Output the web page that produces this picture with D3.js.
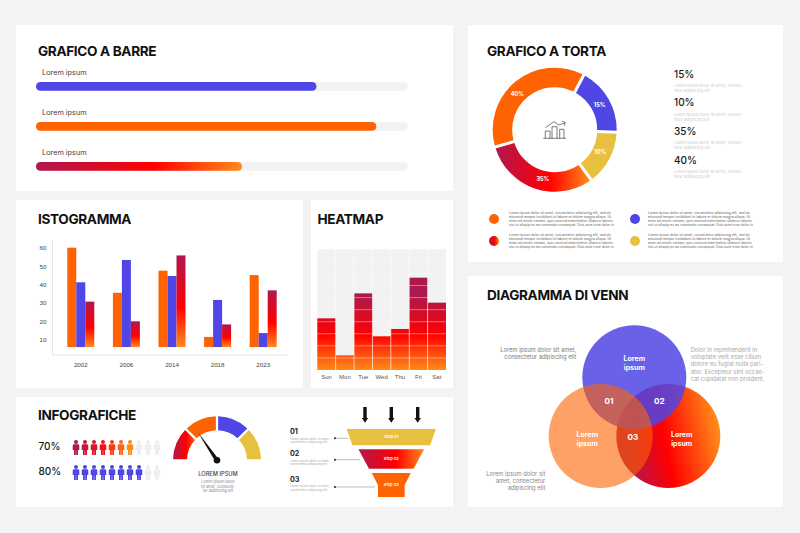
<!DOCTYPE html>
<html>
<head>
<meta charset="utf-8">
<script src="https://cdn.jsdelivr.net/npm/d3@7"></script>
<style>
  html, body { margin: 0; padding: 0; background: #f3f3f3; }
  svg { display: block; font-family: Inter, "Open Sans", sans-serif; }
  .title { font-size: 13.6px; font-weight: 700; fill: #111; letter-spacing: -0.35px; }
</style>
</head>
<body>
<div id="chart"></div>
<script>
// progress bars
var barLabels = ["Lorem ipsum", "Lorem ipsum", "Lorem ipsum"];
var barValues = [75.4, 91.5, 55.4];

// donut
var pieShares = [37.3, 17.9, 14.3, 30.5];
var pieLabels = ["40%", "15%", "10%", "35%"];
var pieSideLabels = ["15%", "10%", "35%", "40%"];

// histogram
var years = ["2002", "2006", "2014", "2018", "2023"];
var histSeries = ["a", "b", "c"];
var histA = [60, 35.5, 47.5, 11.5, 45.1];
var histB = [41.2, 53.3, 44.6, 31.6, 13.6];
var histC = [30.7, 20, 55.8, 18.3, 36.8];
var histTicks = [10, 20, 30, 40, 50, 60];

// heatmap
var days = ["Sun", "Mon", "Tue", "Wed", "Thu", "Fri", "Sat"];
var heatValues = [4.28, 1.22, 6.35, 2.79, 3.4, 7.65, 5.58];
var heatRows = d3.range(10);

// infographics
var peoplePercents = [70, 80];
var gaugeSegments = [1, 1, 1, 1];
var gaugeValue = 31;
var funnelSteps = ["Step 01", "Step 02", "Step 03"];
var funnelTop = [100, 73.5, 43.7];
var funnelBottom = [87, 50, 29.9];
var funnelNumbers = ["01", "02", "03"];

var loremShort = ["Lorem ipsum dolor sit amet, consec-", "tetur adipiscing elit"];
var loremLong = [
  "Lorem ipsum dolor sit amet, consectetur adipiscing elit, sed do",
  "eiusmod tempor incididunt ut labore et dolore magna aliqua. Ut",
  "enim ad minim veniam, quis nostrud exercitation ullamco laboris",
  "nisi ut aliquip ex ea commodo consequat. Duis aute irure dolor in"
];

var BLUE = "#4f46e5", ORANGE = "#ff6200", YELLOW = "#e8c040", LIGHT = "#f2f2f2";

var svg = d3.select("#chart").append("svg")
  .attr("width", 800)
  .attr("height", 533);

var defs = svg.append("defs");

// crimson > red > orange, used all over the page
function addGradient(id, x1, y1, x2, y2) {
  var g = defs.append("linearGradient").attr("id", id)
    .attr("x1", x1).attr("y1", y1).attr("x2", x2).attr("y2", y2);
  g.append("stop").attr("offset", 0).attr("stop-color", "#b0174f");
  g.append("stop").attr("offset", 0.57).attr("stop-color", "#ff0000");
  g.append("stop").attr("offset", 1).attr("stop-color", "#ff8c1a");
}
addGradient("hot-h", 0, 0, 1, 0);
addGradient("hot-v", 0, 0, 0, 1);

function panel(x, y, w, h, title, tx, ty) {
  svg.append("rect").attr("x", x).attr("y", y).attr("width", w).attr("height", h).attr("fill", "#fff");
  svg.append("text").attr("class", "title").attr("x", tx).attr("y", ty).text(title);
}

function textLines(parent, lines, x, y, pitch, size, color, anchor) {
  parent.selectAll(null)
    .data(lines)
    .enter()
    .append("text")
    .attr("x", x)
    .attr("y", function(d, i) { return y + i * pitch; })
    .attr("font-size", size)
    .attr("fill", color)
    .attr("text-anchor", anchor || "start")
    .attr("dominant-baseline", "middle")
    .text(function(d) { return d; });
}

panel(16, 25, 437, 166, "GRAFICO A BARRE", 38, 55.7);
panel(468, 25, 315, 237, "GRAFICO A TORTA", 487, 55.7);
panel(16, 200, 287, 188, "ISTOGRAMMA", 38, 223.8);
panel(311, 200, 142, 188, "HEATMAP", 317.5, 223.8);
panel(16, 397, 437, 110, "INFOGRAFICHE", 38, 419.8);
panel(468, 276, 315, 231, "DIAGRAMMA DI VENN", 487, 299.8);

// ---- bars
function drawBars() {
  var x = d3.scaleLinear().domain([0, 100]).range([0, 372]);
  var y = d3.scalePoint().domain(d3.range(barValues.length)).range([82, 162]);
  var fills = [BLUE, ORANGE, "url(#hot-h)"];
  var g = svg.append("g").attr("transform", "translate(36,0)");
  var rows = g.selectAll("g").data(barValues).enter().append("g")
    .attr("transform", function(d, i) { return "translate(0," + y(i) + ")"; });
  rows.append("rect")
    .attr("width", x(100)).attr("height", 8.8).attr("rx", 4.4).attr("fill", LIGHT);
  rows.append("rect")
    .attr("width", function(d) { return x(d); }).attr("height", 8.8).attr("rx", 4.4)
    .attr("fill", function(d, i) { return fills[i]; });
  rows.append("text")
    .attr("x", 6).attr("y", -7.4)
    .attr("font-size", 7.3).attr("fill", "#444")
    .text(function(d, i) { return barLabels[i]; });
}
drawBars();

// ---- donut
function drawDonut() {
  var cx = 554.7, cy = 129.7;
  var g = svg.append("g").attr("transform", "translate(" + cx + "," + cy + ")");
  var start = 28 * Math.PI / 180;
  // slices run clockwise from the blue one
  var order = [1, 2, 3, 0];
  var pie = d3.pie().sort(null).startAngle(start).endAngle(start + 2 * Math.PI)
    .value(function(i) { return pieShares[i]; });
  var arc = d3.arc().innerRadius(42.5).outerRadius(62).padAngle(0.055).padRadius(55);
  var fills = [ORANGE, BLUE, YELLOW, "url(#hot-h)"];
  var labelShift = [-7.8, 1.5, -1.4, -5.4];
  var slices = pie(order);
  g.selectAll("path.slice").data(slices).enter().append("path")
    .attr("class", "slice")
    .attr("d", arc)
    .attr("fill", function(d) { return fills[d.data]; });
  g.selectAll("text").data(slices).enter().append("text")
    .attr("transform", function(d) {
      var mid = (d.startAngle + d.endAngle) / 2 + labelShift[d.data] * Math.PI / 180;
      return "translate(" + d3.pointRadial(mid, 51) + ")";
    })
    .attr("text-anchor", "middle").attr("dominant-baseline", "middle")
    .attr("font-size", 5.6).attr("font-weight", 700).attr("fill", "#fff")
    .text(function(d) { return pieLabels[d.data]; });

  // little chart icon in the hole
  g.append("path")
    .attr("fill", "none").attr("stroke", "#444").attr("stroke-width", 0.7)
    .attr("d", "M-11.4,8.6H11.3M-9.4,8.6V1.3H-4.7V8.6M-2.7,8.6V-3H2.3V8.6M5,8.6V-.4H9.3V8.6" +
      "M-9.4,-2L-.7,-8L4,-4.7L10.6,-7M7.3,-8.6L10.6,-7L9.4,-3.8");

  // side list
  var side = svg.append("g");
  var sy = d3.scalePoint().domain(d3.range(pieSideLabels.length)).range([75, 161]);
  pieSideLabels.forEach(function(label, i) {
    side.append("text")
      .attr("x", 674).attr("y", sy(i))
      .attr("dominant-baseline", "middle")
      .attr("font-size", 10).attr("font-weight", 500).attr("fill", "#1a1a1a")
      .text(label);
    textLines(side, loremShort, 674, sy(i) + 11, 5, 4, "#cccccc");
  });

  // legend
  var legendFills = [ORANGE, BLUE, "url(#hot-h)", YELLOW];
  var lx = d3.scalePoint().domain([0, 1]).range([494, 635]);
  var ly = d3.scalePoint().domain([0, 1]).range([219, 241]);
  legendFills.forEach(function(fill, i) {
    var col = i % 2, row = i < 2 ? 0 : 1;
    svg.append("circle")
      .attr("cx", lx(col)).attr("cy", ly(row)).attr("r", 5).attr("fill", fill);
    textLines(svg.append("g"), loremLong, lx(col) + 15 - col * 2, ly(row) - 6.3, 4.2, 3.45, "#666");
  });
}
drawDonut();

// ---- histogram
function drawHistogram() {
  var x = d3.scaleBand().domain(years).range([67.3, 276.7]).paddingInner(0.408).paddingOuter(0);
  var inner = d3.scaleBand().domain(histSeries).range([0, x.bandwidth()]);
  var y = d3.scaleLinear().domain([10, 60]).range([339.7, 247.7]);
  var base = y(6);
  var seriesValues = { a: histA, b: histB, c: histC };
  var fills = { a: ORANGE, b: BLUE, c: "url(#hot-v)" };

  var groups = svg.selectAll("g.year").data(years).enter().append("g")
    .attr("class", "year")
    .attr("transform", function(d) { return "translate(" + x(d) + ",0)"; });
  groups.selectAll("rect")
    .data(function(d, i) {
      return histSeries.map(function(s) { return { key: s, value: seriesValues[s][i] }; });
    })
    .enter().append("rect")
    .attr("x", function(d) { return inner(d.key); })
    .attr("y", function(d) { return y(d.value); })
    .attr("width", inner.bandwidth())
    .attr("height", function(d) { return base - y(d.value); })
    .attr("fill", function(d) { return fills[d.key]; });

  var yAxis = svg.append("g").attr("transform", "translate(46.5,0)")
    .call(d3.axisLeft(y).tickValues(histTicks).tickSize(0).tickPadding(0));
  var xAxis = svg.append("g").attr("transform", "translate(0,355)")
    .call(d3.axisBottom(x).tickSize(0).tickPadding(8));
  [yAxis, xAxis].forEach(function(axis) {
    axis.select(".domain").remove();
    axis.selectAll("text").attr("font-family", null).attr("font-size", 6.2).attr("fill", "#444");
  });
  svg.append("path")
    .attr("fill", "none").attr("stroke", "#e8e8e8").attr("stroke-width", 1)
    .attr("d", "M52.5,240V355H288");
}
drawHistogram();

// ---- heatmap
function drawHeatmap() {
  var x = d3.scaleBand().domain(days).range([317.3, 446]);
  var y = d3.scaleLinear().domain([0, 10]).range([370, 249.3]);

  var grad = defs.append("linearGradient").attr("id", "heat")
    .attr("gradientUnits", "userSpaceOnUse")
    .attr("x1", 0).attr("y1", y(7.65)).attr("x2", 0).attr("y2", y(0));
  grad.append("stop").attr("offset", 0.18).attr("stop-color", "#ac1a50");
  grad.append("stop").attr("offset", 0.62).attr("stop-color", "#ff0000");
  grad.append("stop").attr("offset", 1).attr("stop-color", "#ff8c1a");

  svg.append("rect")
    .attr("x", x.range()[0]).attr("y", y(10))
    .attr("width", x.range()[1] - x.range()[0]).attr("height", y(0) - y(10))
    .attr("fill", LIGHT);
  svg.selectAll("rect.heat").data(heatValues).enter().append("rect")
    .attr("class", "heat")
    .attr("x", function(d, i) { return x(days[i]); })
    .attr("y", function(d) { return y(d); })
    .attr("width", x.bandwidth())
    .attr("height", function(d) { return y(0) - y(d); })
    .attr("fill", "url(#heat)");
  svg.selectAll("line.row").data(heatRows.slice(1)).enter().append("line")
    .attr("class", "row")
    .attr("x1", x.range()[0]).attr("x2", x.range()[1])
    .attr("y1", function(d) { return y(d); }).attr("y2", function(d) { return y(d); })
    .attr("stroke", "#fff").attr("stroke-opacity", 0.5).attr("stroke-width", 0.8);
  svg.selectAll("line.col").data(days.slice(1)).enter().append("line")
    .attr("class", "col")
    .attr("x1", function(d) { return x(d); }).attr("x2", function(d) { return x(d); })
    .attr("y1", y(10)).attr("y2", y(0))
    .attr("stroke", "#fff").attr("stroke-opacity", 0.7).attr("stroke-width", 0.8);

  var axis = svg.append("g").attr("transform", "translate(0,370)")
    .call(d3.axisBottom(x).tickSize(0).tickPadding(5));
  axis.select(".domain").remove();
  axis.selectAll("text").attr("font-family", null).attr("font-size", 6).attr("fill", "#555");
}
drawHeatmap();

// ---- people rows
function drawPeople() {
  var person = "M-1.9,4.3H1.9Q3.3,4.3 3.3,5.7V10H2V15H.2V10.5H-.2V15H-2V10H-3.3V5.7Q-3.3,4.3 -1.9,4.3Z";
  var x = d3.scalePoint().domain(d3.range(10)).range([76, 157]);
  var y = d3.scalePoint().domain(d3.range(peoplePercents.length)).range([440, 465]);
  var hot = d3.scaleLinear()
    .domain([0, 3, 6])
    .range(["#b0174f", "#f5101a", "#ff8c1a"]);
  peoplePercents.forEach(function(pct, r) {
    svg.append("text")
      .attr("x", 38.5).attr("y", y(r) + 7.6)
      .attr("dominant-baseline", "middle")
      .attr("font-size", 10).attr("font-weight", 500).attr("fill", "#1a1a1a")
      .text(pct + "%");
    var figures = svg.selectAll(null).data(d3.range(10)).enter().append("g")
      .attr("transform", function(d) { return "translate(" + x(d) + "," + y(r) + ")"; })
      .attr("fill", function(d) {
        if (d >= pct / 10) return "#eeeeee";
        return r === 0 ? hot(d) : BLUE;
      });
    figures.append("circle").attr("cx", 0).attr("cy", 2).attr("r", 2);
    figures.append("path").attr("d", person);
  });
}
drawPeople();

// ---- gauge
function drawGauge() {
  var g = svg.append("g").attr("transform", "translate(217,460.3)");
  var pie = d3.pie().sort(null).startAngle(-Math.PI / 2).endAngle(Math.PI / 2);
  var arc = d3.arc().innerRadius(30).outerRadius(44).padAngle(0.06).padRadius(37);
  var fills = ["url(#hot-h-rev)", ORANGE, BLUE, YELLOW];
  var rev = defs.append("linearGradient").attr("id", "hot-h-rev");
  rev.append("stop").attr("offset", 0).attr("stop-color", "#b0174f");
  rev.append("stop").attr("offset", 0.6).attr("stop-color", "#ff0000");
  rev.append("stop").attr("offset", 1).attr("stop-color", "#ff5a10");
  g.selectAll("path").data(pie(gaugeSegments)).enter().append("path")
    .attr("d", arc)
    .attr("fill", function(d, i) { return fills[i]; });

  var angle = d3.scaleLinear().domain([0, 100]).range([-90, 90]);
  g.append("path")
    .attr("d", "M-2,0L0,-34L2,0Z")
    .attr("transform", "rotate(" + angle(gaugeValue) + ")")
    .attr("fill", "#111");
  g.append("circle").attr("r", 3.3).attr("fill", "#111");

  svg.append("text")
    .attr("x", 218).attr("y", 474)
    .attr("text-anchor", "middle").attr("dominant-baseline", "middle")
    .attr("font-size", 5.7).attr("font-weight", 500).attr("fill", "#444")
    .text("LOREM IPSUM");
  textLines(svg.append("g"), ["Lorem ipsum dolor", "sit amet, consecte-", "tur adipiscing elit"],
    218, 482, 4.6, 3.8, "#888", "middle");
}
drawGauge();

// ---- funnel
function drawFunnel() {
  var cx = 391.3;
  var w = d3.scaleLinear().domain([0, 100]).range([0, 44.65]);
  var tops = [429, 449.3, 473];
  var heights = [16.3, 19.4, 24];
  var fills = [YELLOW, "url(#hot-h)", ORANGE];
  var labelY = [437, 458.7, 485.3];
  var numY = [432.3, 454.3, 480];
  var leadY = [438.3, 459.7, 487];
  var leadX = [348, 360, 375];

  funnelSteps.forEach(function(step, i) {
    var top = tops[i], h = heights[i], a = w(funnelTop[i]), b = w(funnelBottom[i]);
    var d = i < 2
      ? d3.line()([[cx - a, top], [cx + a, top], [cx + b, top + h], [cx - b, top + h]]) + "Z"
      : d3.line()([[cx - a, top], [cx + a, top], [cx + b, top + 12], [cx + b, top + h], [cx - b, top + h], [cx - b, top + 12]]) + "Z";
    svg.append("path").attr("d", d).attr("fill", fills[i]);
    svg.append("text")
      .attr("x", cx).attr("y", labelY[i])
      .attr("text-anchor", "middle").attr("dominant-baseline", "middle")
      .attr("font-size", 4).attr("font-weight", 600).attr("fill", "#fff")
      .text(step);

    svg.append("text")
      .attr("x", 290).attr("y", numY[i])
      .attr("dominant-baseline", "middle")
      .attr("font-size", 7.2).attr("font-weight", 700).attr("fill", "#222")
      .text(funnelNumbers[i]);
    textLines(svg.append("g"), ["Lorem ipsum dolor sit amet,", "consectetur adipiscing elit"],
      290, numY[i] + 6.4, 3.4, 3, "#aaa");

    svg.append("line")
      .attr("x1", 335).attr("x2", leadX[i]).attr("y1", leadY[i]).attr("y2", leadY[i])
      .attr("stroke", "#777").attr("stroke-width", 0.5);
    svg.append("circle").attr("cx", 335).attr("cy", leadY[i]).attr("r", 1).attr("fill", "#222");
  });

  // arrows on top
  [365, 391.3, 417.7].forEach(function(ax) {
    svg.append("path")
      .attr("transform", "translate(" + ax + ",407)")
      .attr("d", "M-1.7,0H1.7V11H3.2L0,15.7L-3.2,11H-1.7Z")
      .attr("fill", "#111");
  });
}
drawFunnel();

// ---- venn
function drawVenn() {
  var r = 52;
  var grad = defs.append("linearGradient").attr("id", "venn-hot")
    .attr("x1", 0).attr("y1", 0.7).attr("x2", 1).attr("y2", 0.5);
  grad.append("stop").attr("offset", 0.1).attr("stop-color", "#b0174f");
  grad.append("stop").attr("offset", 0.48).attr("stop-color", "#ff0000");
  grad.append("stop").attr("offset", 1).attr("stop-color", "#ff8c1a");

  svg.append("circle").attr("cx", 668.3).attr("cy", 436).attr("r", r).attr("fill", "url(#venn-hot)");
  svg.append("circle").attr("cx", 634.3).attr("cy", 377.3).attr("r", r).attr("fill", BLUE).attr("fill-opacity", 0.85);
  svg.append("circle").attr("cx", 600.7).attr("cy", 436).attr("r", r).attr("fill", ORANGE).attr("fill-opacity", 0.6);

  var g = svg.append("g").attr("font-weight", 700);
  textLines(g, ["Lorem", "ipsum"], 634.3, 359.3, 9, 7, "#fff", "middle");
  textLines(g, ["Lorem", "ipsum"], 587.3, 435.5, 9, 7, "#fff", "middle");
  textLines(g, ["Lorem", "ipsum"], 681.7, 435.5, 9, 7, "#fff", "middle");
  textLines(g, ["01"], 609, 401.7, 0, 8.2, "#fff", "middle");
  textLines(g, ["02"], 659.3, 401.7, 0, 8.2, "#fff", "middle");
  textLines(g, ["03"], 633, 437.7, 0, 8.2, "#fff", "middle");

  var notes = svg.append("g");
  textLines(notes, ["Lorem ipsum dolor sit amet,", "consectetur adipiscing elit"], 576.3, 350.7, 7.2, 5.8, "#777", "end");
  textLines(notes, ["Dolor in reprehenderit in", "voluptate velit esse cillum", "dolore eu fugiat nulla pari-",
    "atur. Excepteur sint occae-", "cat cupidatat non proident."], 690.7, 350.7, 7.1, 5.8, "#aaa");
  textLines(notes, ["Lorem ipsum dolor sit", "amet, consectetur", "adipiscing elit"], 545.3, 474.7, 7.1, 5.8, "#888", "end");
}
drawVenn();
</script>
</body>
</html>
